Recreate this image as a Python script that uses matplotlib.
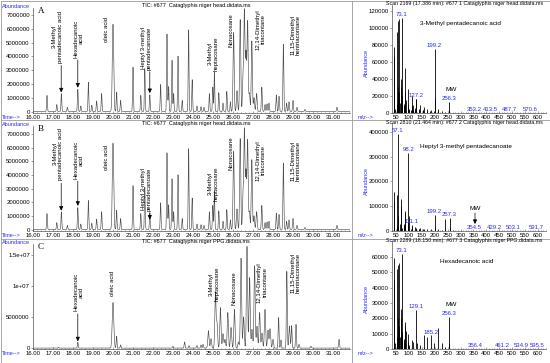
import numpy as np
import matplotlib.pyplot as plt
from matplotlib.lines import Line2D
from matplotlib.ticker import FixedLocator, MultipleLocator

plt.rcParams['font.family'] = ['Liberation Sans', 'DejaVu Sans']

W, H = 550, 363
BLUE = '#2a2aff'
FS = 4.3

# ---- chromatogram peak tables (retention time min, height x1e6, width min) ----
head_rt = [16.70, 17.19, 17.42, 17.72, 18.24, 18.39, 18.77, 18.94, 19.18, 19.43,
           20.00, 20.18, 20.38, 21.00, 21.39, 21.59, 21.84, 22.38, 22.70, 22.78,
           22.95, 23.03, 23.25, 23.46, 23.78, 23.96, 24.20, 24.40, 24.55, 24.82,
           24.99, 25.07, 25.29, 25.50, 25.69, 25.87, 26.03, 26.20, 26.36, 26.50,
           26.57, 26.65, 26.73, 26.82, 26.94, 27.05, 27.18, 27.44, 27.60, 27.70,
           27.80, 28.17, 28.30, 28.52, 28.68, 28.80, 29.00, 29.20, 29.60, 31.20]
head_h = [1.16, 0.50, 1.29, 0.30, 1.60, 0.40, 2.12, 0.45, 0.75, 1.30,
          6.30, 1.40, 0.80, 3.20, 1.17, 3.10, 1.20, 1.95, 5.60, 1.80,
          3.70, 1.30, 4.00, 0.80, 5.90, 2.30, 0.40, 0.35, 0.30, 1.29,
          1.76, 2.83, 1.36, 0.60, 1.45, 0.70, 5.70, 1.50, 6.64, 2.50,
          7.24, 4.20, 6.50, 1.30, 5.10, 1.00, 1.30, 1.76, 0.50, 0.55,
          0.60, 1.20, 1.10, 4.86, 0.60, 0.70, 0.80, 0.30, 0.15, 0.30]
head_w = ([0.02] * 10 + [0.035] + [0.02] * 25
          + [0.028] * 11 + [0.022] * 13)

ppg_rt = [17.28, 18.24, 20.00, 20.18, 20.38, 23.00, 23.58, 23.80, 24.20, 24.40,
          24.50, 24.77, 24.90, 25.12, 25.20, 25.37, 25.50, 25.60, 25.74, 25.90,
          26.07, 26.27, 26.40, 26.53, 26.70, 26.83, 26.95, 27.08, 27.20, 27.33,
          27.45, 27.60, 27.75, 27.85, 28.00, 28.28, 28.40, 28.69, 28.82, 28.93,
          29.15, 29.30, 29.90, 31.30]
ppg_h = [0.15, 0.95, 7.30, 1.90, 0.50, 0.30, 1.00, 0.40, 0.40, 0.50,
         0.60, 2.80, 1.50, 8.90, 4.00, 6.50, 2.30, 1.40, 5.70, 3.30,
         6.20, 1.00, 14.4, 5.00, 16.3, 11.3, 3.00, 13.2, 3.50, 5.70,
         2.40, 6.20, 2.90, 3.10, 1.40, 4.90, 1.30, 12.3, 3.50, 3.60,
         3.80, 0.60, 0.30, 1.40]
ppg_w = ([0.02, 0.02, 0.04, 0.02, 0.02] + [0.022] * 6
         + [0.03] * 24 + [0.022] * 3 + [0.03] + [0.022] * 5)

# ---- mass spectra (m/z, abundance) ----
spec_a_mz = [41, 42, 43, 44, 45, 53, 54, 55, 56, 57, 58, 59, 60, 61, 67, 68, 69, 70,
             71, 73.1, 74, 75, 81, 82, 83, 84, 85, 87, 95, 96, 97, 98, 99, 101, 109,
             111, 112, 113, 115, 117, 123, 125, 127.2, 129, 139, 141, 143, 153, 155,
             157, 169, 171, 183, 185, 197, 199.2, 200, 211, 213, 227, 241, 256.3,
             257, 353.2, 413.5, 487.7, 570.6]
spec_a_val = [78000, 8000, 66000, 6000, 5000, 6000, 10000, 95000, 30000, 108000,
              8000, 15000, 110000, 25000, 12000, 10000, 40000, 12000, 30000, 112000,
              20000, 8000, 10000, 8000, 53000, 12000, 25000, 15000, 8000, 6000,
              28000, 10000, 5000, 4000, 4000, 20000, 8000, 3000, 9000, 3000, 3000,
              6000, 17000, 16000, 5000, 3000, 9000, 4000, 3000, 7000, 2000, 5000,
              2000, 4000, 2000, 75000, 18000, 2000, 5000, 2000, 1500, 13000, 3000,
              500, 400, 400, 400]
spec_a_lab = [73.1, 127.2, 199.2, 256.3, 353.2, 413.5, 487.7, 570.6]

spec_b_mz = [41, 42, 43, 44, 53, 54, 55, 56, 57.1, 58, 67, 68, 69, 70, 71, 72, 81,
             82, 83, 84, 85, 86, 95, 96, 97, 98.2, 99, 109, 111.1, 112, 113, 125,
             127, 129, 139, 141, 143, 155, 157, 171, 185, 199.2, 200, 213, 227, 239,
             241, 257.3, 258, 271, 354.5, 429.2, 503.1, 591.7]
spec_b_val = [120000, 15000, 158000, 10000, 12000, 20000, 145000, 60000, 390000,
              20000, 30000, 25000, 100000, 40000, 130000, 12000, 30000, 20000, 70000,
              30000, 80000, 10000, 20000, 15000, 40000, 315000, 60000, 10000, 25000,
              15000, 8000, 15000, 10000, 12000, 10000, 8000, 12000, 8000, 10000,
              8000, 8000, 65000, 15000, 8000, 5000, 50000, 10000, 52000, 12000,
              3000, 1500, 1000, 1000, 1000]
spec_b_lab = [57.1, 98.2, 111.1, 199.2, 257.3, 354.5, 429.2, 503.1, 591.7]

spec_c_mz = [41, 42, 43, 44, 45, 53, 54, 55, 56, 57, 58, 59, 60, 61, 67, 68, 69, 70,
             71, 73.1, 74, 75, 81, 82, 83, 84, 85, 87, 95, 97, 98, 101, 111, 115,
             129.1, 130, 143, 157, 171, 185.2, 199, 213, 227, 239, 256.3, 257,
             356.4, 461.2, 534.9, 595.5]
spec_c_val = [45000, 6000, 59000, 5000, 4000, 5000, 8000, 52000, 20000, 55000, 6000,
              10000, 56000, 15000, 8000, 6000, 26000, 9000, 20000, 62000, 11000,
              5000, 7000, 5000, 18000, 7000, 15000, 12000, 4000, 10000, 5000, 3000,
              6000, 5000, 25500, 4000, 3000, 9000, 8000, 9000, 4000, 14000, 4000,
              1500, 21000, 4000, 300, 300, 300, 300]
spec_c_lab = [73.1, 129.1, 185.2, 256.3, 356.4, 461.2, 534.9, 595.5]

tic_titles = ['TIC: #677  Cataglyphis niger head.didata.ms',
              'TIC: #677  Cataglyphis niger head.didata.ms',
              'TIC: #677  Cataglyphis niger PPG.didata.ms']
scan_titles = ['Scan 2169 (17.386 min): #677 1 Cataglyphis niger head.didata.ms',
               'Scan 2810 (21.464 min): #677 2 Cataglyphis niger head.didata.ms',
               'Scan 2289 (18.150 min): #677 3 Cataglyphis niger PPG.didata.ms']
spec_names = ['3-Methyl pentadecanoic acid', 'Heptyl 3-methyl pentadecanoate',
              'Hexadecanoic acid']
letters = ['A', 'B', 'C']

# compound labels: (text, rt, bottom y)  ... arrows: (rt, y_from, y_to)
labels_a = [('3-Methyl\npentadecanoic acid', 17.22, 3.55e6),
            ('Hexadecanoic\nacid', 18.29, 3.9e6),
            ('oleic acid', 19.65, 5.05e6),
            ('Heptyl 3-methyl\npentadecanoate', 21.67, 3.05e6),
            ('3-Methyl\nheptacosane', 25.0, 2.95e6),
            ('Nonacosane', 25.9, 4.7e6),
            ('12,14-Dimethyl\ntriacontane', 27.39, 4.5e6),
            ('11,15-Dimethyl\nhentriacontane', 29.13, 4.1e6)]
arrows_a = [(17.41, 3.35e6, 1.4e6), (18.24, 3.75e6, 1.75e6), (21.84, 2.9e6, 1.35e6)]
labels_b = [('3-Methyl\npentadecanoic acid', 17.25, 3.65e6),
            ('Hexadecanoic\nacid', 18.29, 3.7e6),
            ('oleic acid', 19.65, 4.4e6),
            ('Heptyl 3-methyl\npentadecanoate', 21.67, 1.4e6),
            ('3-Methyl\nheptacosane', 25.0, 2.1e6),
            ('Nonacosane', 25.9, 4.4e6),
            ('12,14-Dimethyl\ntriacontane', 27.39, 3.6e6),
            ('11,15-Dimethyl\nhentriacontane', 29.13, 3.6e6)]
arrows_b = [(17.41, 3.4e6, 1.4e6), (18.24, 3.55e6, 1.75e6), (21.84, 1.25e6, 0.75e6)]
labels_c = [('Hexadecanoic\nacid', 18.3, 5.9e6),
            ('oleic acid', 19.95, 8.3e6),
            ('3-Methyl\nheptacosane', 25.05, 7.5e6),
            ('Nonacosane', 26.07, 7.0e6),
            ('12,14-Dimethyl\ntriacontane', 27.46, 7.3e6),
            ('11,15-Dimethyl\nhentriacontane', 29.13, 8.9e6)]
arrows_c = [(18.24, 5.5e6, 1.1e6)]


def rect(x0, y0, x1, y1):
    return [x0 / W, 1 - y1 / H, (x1 - x0) / W, (y1 - y0) / H]


def ftext(x, y, s, **kw):
    kw.setdefault('fontsize', FS)
    fig.text(x / W, 1 - y / H, s, **kw)


def trace(t, rts, hs, ws):
    y = np.zeros_like(t) + 0.03
    for r, h, w in zip(rts, hs, ws):
        y += h * np.exp(-0.5 * ((t - r) / w) ** 2)
    return y


fig = plt.figure(figsize=(W / 100, H / 100), dpi=100)

t = np.arange(16.0, 31.86, 0.003)
chrom = [(trace(t, head_rt, head_h, head_w), labels_a, arrows_a),
         (trace(t, head_rt, head_h, head_w), labels_b, arrows_b),
         (trace(t, ppg_rt, ppg_h, ppg_w), labels_c, arrows_c)]
left_box = [(33, 8, 350, 113), (33, 126, 350, 231), (33, 244, 350, 349.3)]
left_ylim = [7.5, 7.58, 16.7]
right_box = [(392, 5, 546, 113), (392, 123, 546, 231), (392, 241, 546, 349.3)]
right_ylim = [127000, 435000, 70300]
specs = [(spec_a_mz, spec_a_val, spec_a_lab), (spec_b_mz, spec_b_val, spec_b_lab),
         (spec_c_mz, spec_c_val, spec_c_lab)]
right_ticks = [np.arange(0, 120001, 20000), np.arange(0, 400001, 100000),
               np.arange(0, 60001, 10000)]
name_pos = [(298, 105000), (321, 338700), (325, 56700)]
mw_pos = [(263, 28000), (356, 88700), (263, 29400)]
arrow_kw = dict(arrowstyle='-|>,head_length=0.25,head_width=0.12',
                color='k', lw=0.5, shrinkA=0, shrinkB=0)

for i in range(3):
    y_tr, labs, arrs = chrom[i]
    ax = fig.add_axes(rect(*left_box[i]))
    ax.plot(t, y_tr * 1e6, color='#505050', lw=0.45)
    ax.set_xlim(16.0, 31.85)
    ax.set_ylim(-0.08e6 * (2 if i == 2 else 1), left_ylim[i] * 1e6)
    for s in ['top', 'right']:
        ax.spines[s].set_visible(False)
    for s in ['left', 'bottom']:
        ax.spines[s].set_linewidth(0.5)
        ax.spines[s].set_color('#555555')
    ax.xaxis.set_major_locator(FixedLocator(np.arange(16, 32)))
    ax.xaxis.set_minor_locator(MultipleLocator(0.2))
    ax.set_xticklabels([f'{v:.2f}' for v in np.arange(16, 32)])
    if i < 2:
        ax.set_yticks(np.arange(0, 7.1e6, 1e6))
        ax.set_yticklabels(['0'] + [f'{int(v)}' for v in np.arange(1e6, 7.1e6, 1e6)])
    else:
        ax.set_yticks([0, 5e6, 1e7, 1.5e7])
        ax.set_yticklabels(['0', '5000000', '1e+07', '1.5e+07'])
    ax.tick_params(axis='x', which='both', direction='in', length=1.5, width=0.4,
                   labelsize=FS, pad=1.5, color='#555555')
    ax.tick_params(axis='x', which='minor', length=1.0)
    ax.tick_params(axis='y', direction='out', length=1.5, width=0.4,
                   labelsize=FS, pad=0.8, color='#555555')
    for txt, rt, yb in labs:
        ax.text(rt, yb, txt, rotation=90, ha='center', va='bottom',
                multialignment='center', fontsize=FS, linespacing=1.1)
    for rt, y0, y1 in arrs:
        ax.annotate('', xy=(rt, y1), xytext=(rt, y0), arrowprops=arrow_kw)

    y_top = left_box[i][1]
    ftext(2, y_top - 2, 'Abundance', color=BLUE, va='center', fontsize=4.0)
    ftext(38, y_top + 3, letters[i], family='Liberation Serif', fontsize=6.5, va='center')
    ftext(196, y_top - 2, tic_titles[i], ha='center', va='center', fontsize=4.0)
    ftext(2, left_box[i][3] + 4.5, 'Time-->', color=BLUE, va='center', fontsize=4.0)

    # mass spectrum
    mz, val, lab = specs[i]
    bx = fig.add_axes(rect(*right_box[i]))
    bx.vlines(mz, 0, val, color='black', lw=0.6)
    for m in lab:
        v = val[mz.index(m)]
        bx.annotate(f'{m}', (m, v), xytext=(0, 0.6), textcoords='offset points',
                    ha='center', va='bottom', color=BLUE, fontsize=FS)
    bx.set_xlim(34.5, 631)
    bx.set_ylim(0, right_ylim[i])
    for s in ['top', 'right']:
        bx.spines[s].set_visible(False)
    for s in ['left', 'bottom']:
        bx.spines[s].set_linewidth(0.5)
        bx.spines[s].set_color('#555555')
    bx.set_xticks(np.arange(50, 601, 50))
    bx.set_xticklabels([f'{v}' for v in range(50, 601, 50)])
    bx.xaxis.set_minor_locator(MultipleLocator(10))
    bx.set_yticks(right_ticks[i])
    bx.set_yticklabels([f'{int(v)}' for v in right_ticks[i]])
    bx.tick_params(axis='x', which='both', direction='in', length=1.5, width=0.4,
                   labelsize=FS, pad=1.5, color='#555555')
    bx.tick_params(axis='x', which='minor', length=1.0)
    bx.tick_params(axis='y', direction='out', length=1.5, width=0.4,
                   labelsize=FS, pad=0.8, color='#555555')
    bx.text(*name_pos[i], spec_names[i], ha='center', va='center', fontsize=4.6)
    bx.text(*mw_pos[i], 'MW', ha='center', va='center', fontsize=4.6)
    if i == 1:
        bx.annotate('', xy=(356, 28000), xytext=(356, 72600), arrowprops=arrow_kw)
    ry = right_box[i]
    ftext(386, ry[1] - 1.2 + (0 if i == 0 else 1.0), scan_titles[i], va='center',
          fontsize=3.75)
    ftext(366, (ry[1] + ry[3]) / 2 + 4, 'Abundance', color=BLUE, rotation=90,
          ha='center', va='center', fontsize=4.0)
    ftext(358, ry[3] + 4.5, 'm/z-->', color=BLUE, va='center', fontsize=4.0)

# panel frame lines
frame = '#9a9a9a'
for (x0, y0, x1, y1) in [(0.5, 0.5, 549.5, 0.5), (0.5, 362.5, 549.5, 362.5),
                         (0.5, 0.5, 0.5, 362.5), (549.5, 0.5, 549.5, 362.5),
                         (352, 0.5, 352, 362.5), (0.5, 120.3, 549.5, 120.3),
                         (0.5, 238.5, 549.5, 238.5)]:
    fig.add_artist(Line2D([x0 / W, x1 / W], [1 - y0 / H, 1 - y1 / H],
                          color=frame, lw=0.6))

fig.savefig('out.png', dpi=100)
